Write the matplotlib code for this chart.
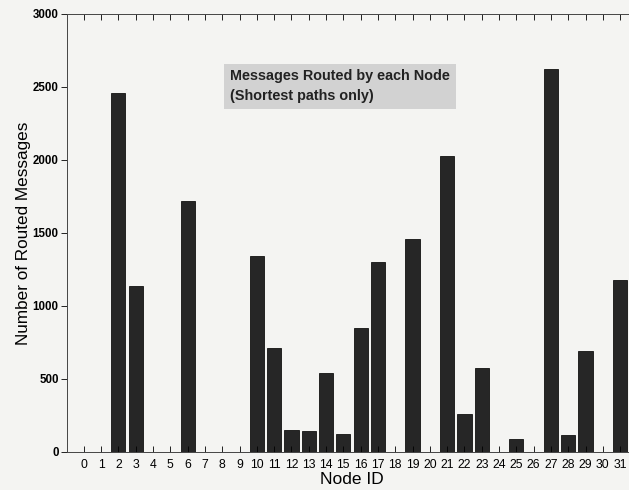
import matplotlib.pyplot as plt

plt.rcParams["font.family"] = ["Liberation Sans", "DejaVu Sans"]

node_ids = list(range(32))
routed = [0, 0, 2460, 1140, 0, 0, 1720, 0, 0, 0,
          1340, 710, 150, 145, 540, 120, 850, 1300, 0, 1460,
          0, 2030, 260, 575, 0, 90, 0, 2620, 115, 690,
          0, 1180]

fig = plt.figure(figsize=(6.29, 4.90), dpi=100)
fig.patch.set_facecolor("#f4f4f2")
ax = fig.add_axes([0.1065, 0.0776, 0.907, 0.894])
ax.set_facecolor("#f4f4f2")

ax.bar(node_ids, routed, width=0.82, color="#262626", edgecolor="#111111", linewidth=0.6)

ax.set_xlim(-0.97, 32)
ax.set_ylim(0, 3000)
ax.set_xticks(node_ids)
ax.set_xticklabels([str(n) for n in node_ids], fontsize=8.8)
ax.set_yticks([0, 500, 1000, 1500, 2000, 2500, 3000])
ax.tick_params(axis="y", direction="out", length=4, labelsize=8.3, width=0.6, pad=2)
ax.tick_params(axis="x", direction="in", length=4, top=True, width=0.6, pad=5)
for lab in ax.get_yticklabels():
    lab.set_fontweight("bold")
for s in ax.spines.values():
    s.set_linewidth(0.7)
    s.set_color("#444444")

ax.set_xlabel("Node ID", fontsize=12.5, labelpad=1)
ax.set_ylabel("Number of Routed Messages", fontsize=12.3, labelpad=1.5)

ax.text(8.45, 2620, "Messages Routed by each Node\n(Shortest paths only)",
        fontsize=10.4, fontweight="bold", va="top", ha="left", linespacing=1.5,
        color="#222222",
        bbox=dict(boxstyle="square,pad=0.4", facecolor="#d2d2d2", edgecolor="none"))

fig.savefig("out.png", dpi=100, facecolor=fig.get_facecolor())
